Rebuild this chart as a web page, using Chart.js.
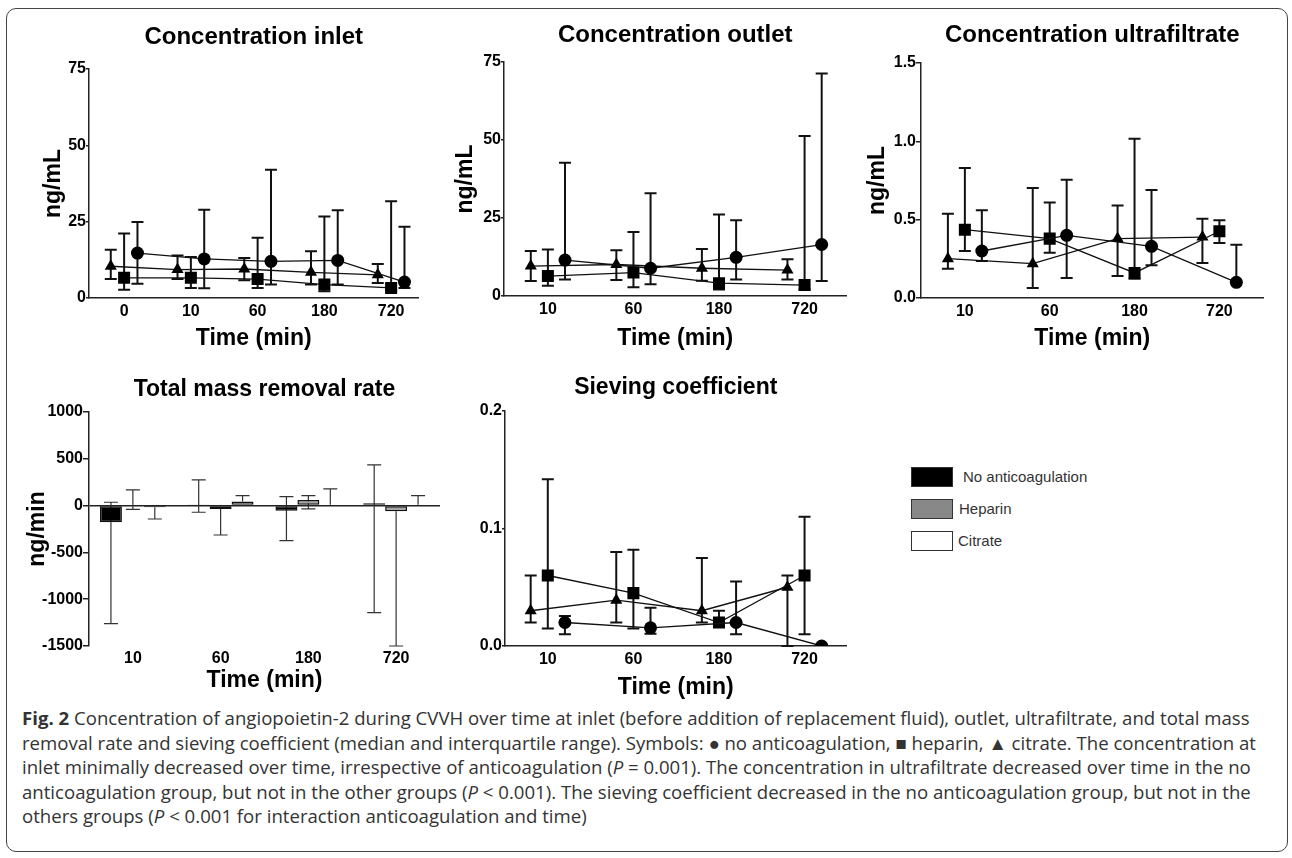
<!DOCTYPE html>
<html>
<head>
<meta charset="utf-8">
<script src="https://cdn.jsdelivr.net/npm/chart.js@4.4.1/dist/chart.umd.min.js"></script>
<style>
  html, body { margin: 0; padding: 0; background: #fff; }
  body { width: 1292px; height: 858px; position: relative; overflow: hidden; }
  .frame { position: absolute; left: 6px; top: 8px; width: 1280px; height: 842px; border: 1.5px solid #444; border-radius: 10px; }
  .panel { position: absolute; }
  .legend { position: absolute; left: 911px; top: 467px; font-family: "Liberation Sans", Arial, sans-serif; font-size: 15px; color: #333; }
  .legend .row { position: relative; height: 32px; }
  .legend .box { position: absolute; left: 0; top: 0; width: 40px; height: 18px; border: 1.5px solid #333; }
  .legend .txt { position: absolute; top: 1px; line-height: 18px; white-space: nowrap; }
  .caption { position: absolute; left: 22px; top: 706px; font-family: "Open Sans", "Noto Sans", sans-serif; font-size: 18.6px; line-height: 24.5px; color: #333; white-space: nowrap; }
</style>
</head>
<body>
<div class="frame"></div>
<div class="panel" style="left:40px;top:10px;width:387px;height:345px"><canvas id="inlet-chart"></canvas></div>
<div class="panel" style="left:450px;top:10px;width:405px;height:345px"><canvas id="outlet-chart"></canvas></div>
<div class="panel" style="left:862px;top:10px;width:410px;height:345px"><canvas id="uf-chart"></canvas></div>
<div class="panel" style="left:22px;top:365px;width:418px;height:332px"><canvas id="mass-chart"></canvas></div>
<div class="panel" style="left:450px;top:365px;width:405px;height:340px"><canvas id="sieve-chart"></canvas></div>

<div class="legend">
  <div class="row"><div class="box" style="background:#000"></div><div class="txt" style="left:52px">No anticoagulation</div></div>
  <div class="row"><div class="box" style="background:#888"></div><div class="txt" style="left:48px">Heparin</div></div>
  <div class="row"><div class="box" style="background:#fff"></div><div class="txt" style="left:47px">Citrate</div></div>
</div>

<div class="caption">
  <div><b>Fig. 2</b> Concentration of angiopoietin-2 during CVVH over time at inlet (before addition of replacement fluid), outlet, ultrafiltrate, and total mass</div>
  <div>removal rate and sieving coefficient (median and interquartile range). Symbols: ● no anticoagulation, ■ heparin, ▲ citrate. The concentration at</div>
  <div>inlet minimally decreased over time, irrespective of anticoagulation (<i>P</i> = 0.001). The concentration in ultrafiltrate decreased over time in the no</div>
  <div>anticoagulation group, but not in the other groups (<i>P</i> &lt; 0.001). The sieving coefficient decreased in the no anticoagulation group, but not in the</div>
  <div>others groups (<i>P</i> &lt; 0.001 for interaction anticoagulation and time)</div>
</div>

<script>
// start: Data
const inletTimes = ["0", "10", "60", "180", "720"];
const laterTimes = ["10", "60", "180", "720"];

// concentration inlet, ng/mL (median, lower and upper quartile)
const inletNone = [14.7, 12.8, 12.0, 12.3, 5.2];
const inletNoneLow = [4.7, 3.2, 4.4, 4.4, 3.3];
const inletNoneHigh = [24.9, 28.9, 42.0, 28.7, 23.3];
const inletHeparin = [6.6, 6.6, 6.2, 4.4, 3.3];
const inletHeparinLow = [2.7, 3.3, 3.3, 2.2, 2.5];
const inletHeparinHigh = [21.1, 13.4, 19.7, 26.7, 31.7];
const inletCitrate = [10.4, 9.3, 9.5, 8.4, 7.6];
const inletCitrateLow = [6.2, 6.2, 5.8, 4.4, 4.9];
const inletCitrateHigh = [15.8, 13.9, 13.1, 15.3, 11.1];

// concentration outlet, ng/mL
const outletNone = [11.5, 8.9, 12.4, 16.5];
const outletNoneLow = [5.3, 3.8, 5.3, 4.8];
const outletNoneHigh = [42.7, 32.9, 24.3, 71.3];
const outletHeparin = [6.4, 7.5, 4.1, 3.5];
const outletHeparinLow = [3.3, 2.8, 2.1, 2.1];
const outletHeparinHigh = [14.9, 20.5, 26.1, 51.3];
const outletCitrate = [9.6, 10.1, 8.9, 8.3];
const outletCitrateLow = [4.8, 5.1, 4.9, 5.3];
const outletCitrateHigh = [14.4, 14.7, 15.1, 11.8];

// concentration ultrafiltrate, ng/mL
const ufNone = [0.30, 0.40, 0.33, 0.10];
const ufNoneLow = [0.236, 0.128, 0.209, 0.10];
const ufNoneHigh = [0.56, 0.755, 0.69, 0.34];
const ufHeparin = [0.436, 0.379, 0.16, 0.426];
const ufHeparinLow = [0.30, 0.289, 0.123, 0.351];
const ufHeparinHigh = [0.83, 0.609, 1.017, 0.496];
const ufCitrate = [0.251, 0.219, 0.379, 0.389];
const ufCitrateLow = [0.187, 0.064, 0.14, 0.223];
const ufCitrateHigh = [0.538, 0.702, 0.591, 0.506];

// total mass removal rate, ng/min
const massNone = [-179, 5, -54, 25];
const massNoneLow = [-1261, -71, -375, -1143];
const massNoneHigh = [36, 275, 96, 436];
const massHeparin = [10, -36, 61, -61];
const massHeparinLow = [-40, -314, -36, -1500];
const massHeparinHigh = [168, -36, 107, -61];
const massCitrate = [-18, 43, 8, 8];
const massCitrateLow = [-143, 43, 8, 8];
const massCitrateHigh = [-18, 107, 179, 107];

// sieving coefficient
const sieveNone = [0.020, 0.0155, 0.020, 0.0];
const sieveNoneLow = [0.010, 0.0105, 0.010, 0.0];
const sieveNoneHigh = [0.0255, 0.0325, 0.055, 0.0];
const sieveHeparin = [0.060, 0.045, 0.020, 0.060];
const sieveHeparinLow = [0.015, 0.015, 0.020, 0.010];
const sieveHeparinHigh = [0.142, 0.082, 0.030, 0.110];
const sieveCitrate = [0.030, 0.039, 0.030, 0.050];
const sieveCitrateLow = [0.020, 0.020, 0.020, 0.0];
const sieveCitrateHigh = [0.060, 0.080, 0.075, 0.060];
// end: Data

Chart.defaults.font.family = '"Liberation Sans", Arial, sans-serif';
Chart.defaults.color = "#000";

// start: Error bars
const errorBars = {
  id: "errorBars",
  beforeDatasetsDraw: function (chart, args, opts) {
    const ctx = chart.ctx;
    const y = chart.scales.y;
    const area = chart.chartArea;
    ctx.save();
    ctx.beginPath();
    ctx.rect(area.left, area.top - 2, area.right - area.left, area.bottom - area.top + 4);
    ctx.clip();
    ctx.strokeStyle = opts.color;
    ctx.lineWidth = opts.width;
    chart.data.datasets.forEach(function (ds, di) {
      if (!ds.errLow) return;
      const meta = chart.getDatasetMeta(di);
      meta.data.forEach(function (el, i) {
        const d = ds.data[i];
        const v = typeof d === "object" ? d.y : d;
        [ds.errLow[i], ds.errHigh[i]].forEach(function (e) {
          if (e === v) return;
          const py = y.getPixelForValue(e);
          ctx.beginPath();
          ctx.moveTo(el.x, el.y);
          ctx.lineTo(el.x, py);
          ctx.moveTo(el.x - opts.cap, py);
          ctx.lineTo(el.x + opts.cap, py);
          ctx.stroke();
        });
      });
    });
    ctx.restore();
  },
};
Chart.register(errorBars);
// end: Error bars

// start: Panels
const groups = [
  { label: "No anticoagulation", pointStyle: "circle", radius: 6.5, shift: 0.2 },
  { label: "Heparin", pointStyle: "rect", radius: 8.5, shift: 0 },
  { label: "Citrate", pointStyle: "triangle", radius: 7, shift: -0.2 },
];

function pointDatasets(medians, lows, highs) {
  return groups.map(function (g, k) {
    return {
      label: g.label,
      data: medians[k].map(function (v, i) {
        return { x: i + g.shift, y: v };
      }),
      errLow: lows[k],
      errHigh: highs[k],
      pointStyle: g.pointStyle,
      pointRadius: g.radius,
      pointBackgroundColor: "#000",
      pointBorderColor: "#000",
      pointBorderWidth: 0,
      borderColor: "#111",
      borderWidth: 1.3,
      tension: 0,
      fill: false,
    };
  });
}

function yAxis(p) {
  return {
    min: p.yMin,
    max: p.yMax,
    ticks: {
      stepSize: p.yStep,
      padding: 0,
      font: { size: 16, weight: "bold" },
      color: "#000",
      callback: function (v) {
        return p.yDigits ? v.toFixed(p.yDigits) : v;
      },
    },
    grid: {
      display: true,
      drawOnChartArea: !!p.zeroLine,
      drawTicks: true,
      tickLength: p.tickLength,
      lineWidth: 1.5,
      color: function (c) {
        return c.tick && c.tick.value === 0 ? "#222" : "rgba(0,0,0,0)";
      },
      tickColor: "#222",
    },
    border: { display: true, color: "#222", width: 1.5 },
    title: {
      display: !!p.yTitle,
      text: p.yTitle,
      color: "#000",
      font: { size: 23, weight: "bold", lineHeight: 1.2 },
      padding: { top: p.yTitlePad, bottom: 0 },
    },
    afterFit: function (s) {
      s.width = p.yWidth;
    },
  };
}

function xTitle(p) {
  return {
    display: true,
    text: "Time (min)",
    color: "#000",
    font: { size: 23, weight: "bold", lineHeight: 1.2 },
    padding: { top: 0, bottom: p.xTitlePad },
  };
}

function baseOptions(p, scales) {
  return {
    responsive: true,
    maintainAspectRatio: false,
    animation: false,
    layout: { padding: 0 },
    plugins: {
      legend: { display: false },
      tooltip: { enabled: false },
      title: {
        display: true,
        text: p.title,
        fullSize: false,
        color: "#000",
        font: { size: p.titleSize, weight: "bold", lineHeight: 1.2 },
        padding: { top: p.titleTop, bottom: p.titleBottom },
      },
      errorBars: { width: p.errWidth, cap: p.cap, color: p.errColor },
    },
    scales: scales,
  };
}

function pointChart(id, p, datasets) {
  new Chart(document.getElementById(id), {
    type: "line",
    data: { datasets: datasets },
    options: baseOptions(p, {
      x: {
        type: "linear",
        min: p.xMin,
        max: p.xMax,
        afterBuildTicks: function (s) {
          s.ticks = p.cats.map(function (c, i) {
            return { value: i };
          });
        },
        ticks: {
          padding: 4,
          autoSkip: false,
          maxRotation: 0,
          font: { size: 16, weight: "bold" },
          color: "#000",
          callback: function (v) {
            return p.cats[v];
          },
        },
        grid: { display: false, drawTicks: false },
        border: { display: true, color: "#222", width: 1.5 },
        title: xTitle(p),
        afterFit: function (s) {
          s.height = p.xHeight;
        },
      },
      y: yAxis(p),
    }),
  });
}

const lineStyle = { titleSize: 24, errWidth: 2, cap: 6, errColor: "#111", yTitle: "ng/mL", tickLength: 3 };

pointChart(
  "inlet-chart",
  Object.assign({}, lineStyle, {
    title: "Concentration inlet", cats: inletTimes,
    titleTop: 12.6, titleBottom: 17.6, yWidth: 49, yTitlePad: 0, xHeight: 57, xTitlePad: 2.2,
    xMin: -0.526, xMax: 4.41, yMin: 0, yMax: 75, yStep: 25,
  }),
  pointDatasets(
    [inletNone, inletHeparin, inletCitrate],
    [inletNoneLow, inletHeparinLow, inletCitrateLow],
    [inletNoneHigh, inletHeparinHigh, inletCitrateHigh]
  )
);

pointChart(
  "outlet-chart",
  Object.assign({}, lineStyle, {
    title: "Concentration outlet", cats: laterTimes,
    titleTop: 10.6, titleBottom: 12.6, yWidth: 54, yTitlePad: 1.5, xHeight: 59, xTitlePad: 2.2,
    xMin: -0.513, xMax: 3.49, yMin: 0, yMax: 75, yStep: 25,
  }),
  pointDatasets(
    [outletNone, outletHeparin, outletCitrate],
    [outletNoneLow, outletHeparinLow, outletCitrateLow],
    [outletNoneHigh, outletHeparinHigh, outletCitrateHigh]
  )
);

pointChart(
  "uf-chart",
  Object.assign({}, lineStyle, {
    title: "Concentration ultrafiltrate", cats: laterTimes, tickLength: 5,
    titleTop: 11.1, titleBottom: 13.1, yWidth: 59, yTitlePad: 1.5, xHeight: 57, xTitlePad: 2.2,
    xMin: -0.517, xMax: 3.52, yMin: 0, yMax: 1.5, yStep: 0.5, yDigits: 1,
  }),
  pointDatasets(
    [ufNone, ufHeparin, ufCitrate],
    [ufNoneLow, ufHeparinLow, ufCitrateLow],
    [ufNoneHigh, ufHeparinHigh, ufCitrateHigh]
  )
);

pointChart(
  "sieve-chart",
  Object.assign({}, lineStyle, {
    title: "Sieving coefficient", cats: laterTimes, titleSize: 23, yTitle: "",
    titleTop: 9.2, titleBottom: 9.2, yWidth: 55, yTitlePad: 0, xHeight: 59, xTitlePad: 3.2,
    xMin: -0.5, xMax: 3.49, yMin: 0, yMax: 0.2, yStep: 0.1, yDigits: 1,
  }),
  pointDatasets(
    [sieveNone, sieveHeparin, sieveCitrate],
    [sieveNoneLow, sieveHeparinLow, sieveCitrateLow],
    [sieveNoneHigh, sieveHeparinHigh, sieveCitrateHigh]
  )
);

// bar panel
const massPanel = {
  title: "Total mass removal rate", titleSize: 23, yTitle: "ng/min", tickLength: 6,
  titleTop: 10.7, titleBottom: 8.7, yWidth: 67, yTitlePad: 2, xHeight: 51, xTitlePad: 2.2,
  yMin: -1500, yMax: 1000, yStep: 500, zeroLine: true,
  errWidth: 1.2, cap: 7, errColor: "#333",
};

function barSet(label, values, low, high, color) {
  return {
    label: label,
    data: values,
    errLow: low,
    errHigh: high,
    backgroundColor: color,
    borderColor: "#111",
    borderWidth: 1.5,
    borderSkipped: false,
    categoryPercentage: 0.75,
    barPercentage: 1,
  };
}

new Chart(document.getElementById("mass-chart"), {
  type: "bar",
  data: {
    labels: laterTimes,
    datasets: [
      barSet("No anticoagulation", massNone, massNoneLow, massNoneHigh, "#000"),
      barSet("Heparin", massHeparin, massHeparinLow, massHeparinHigh, "#a3a3a3"),
      barSet("Citrate", massCitrate, massCitrateLow, massCitrateHigh, "#fff"),
    ],
  },
  options: baseOptions(massPanel, {
    x: {
      ticks: { padding: 3, font: { size: 16, weight: "bold" }, color: "#000" },
      grid: { display: false, drawTicks: false },
      border: { display: false },
      title: xTitle(massPanel),
      afterFit: function (s) {
        s.height = massPanel.xHeight;
      },
    },
    y: yAxis(massPanel),
  }),
});
// end: Panels
</script>
</body>
</html>
